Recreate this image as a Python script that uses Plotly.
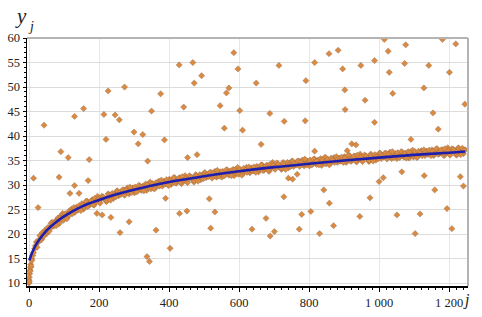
import plotly.graph_objects as go

# ---- data ----
early_j = [0, 0, 1, 2, 3, 4, 5, 8]
early_y = [10.0, 10.6, 11.2, 11.9, 12.6, 13.2, 13.8, 14.9]

band_y = [
    10.3, 13.4, 15.6, 17.0,
    18.4, 18.3, 19.7, 18.9, 20.1,
    20.8, 20.1, 21.3, 21.2, 22.4,
    21.6, 22.7, 22.7, 22.1, 23.7,
    24.2, 23.3, 24.0, 23.5, 24.6,
    25.1, 24.6, 24.4, 25.5, 25.0,
    25.1, 26.2, 25.1, 26.1, 26.7,
    25.8, 26.3, 27.0, 25.9, 27.0,
    27.7, 26.5, 27.2, 27.6, 27.1,
    26.6, 28.2, 27.6, 28.1, 27.3,
    28.2, 28.8, 27.8, 28.3, 28.9,
    29.0, 28.4, 29.4, 28.2, 29.0,
    29.4, 28.4, 29.3, 28.9, 29.9,
    28.9, 29.8, 29.6, 28.9, 30.2,
    30.6, 29.5, 30.1, 29.4, 30.4,
    30.8, 30.2, 29.8, 30.8, 30.3,
    30.2, 31.2, 30.1, 30.9, 31.5,
    30.4, 30.9, 31.5, 30.3, 31.4,
    31.9, 30.7, 31.4, 31.7, 31.2,
    30.6, 32.1, 31.5, 31.9, 31.1,
    31.9, 32.5, 31.5, 31.9, 32.5,
    32.5, 31.9, 32.8, 31.6, 32.3,
    32.7, 31.6, 32.6, 32.1, 33.1,
    32.0, 32.9, 32.6, 31.9, 33.2,
    33.6, 32.4, 32.9, 32.3, 33.2,
    33.6, 32.9, 32.5, 33.5, 32.9,
    32.9, 33.8, 32.7, 33.5, 34.1,
    33.0, 33.5, 34.0, 32.8, 33.9,
    34.6, 33.4, 34.0, 34.3, 33.7,
    33.2, 34.6, 33.9, 34.4, 33.5,
    34.4, 34.9, 33.8, 34.3, 34.8,
    34.9, 34.2, 35.1, 33.9, 34.6,
    34.9, 33.9, 34.8, 34.3, 35.3,
    34.2, 35.1, 34.8, 34.0, 35.3,
    35.7, 34.5, 35.0, 34.4, 35.3,
    35.6, 35.0, 34.6, 35.5, 34.9,
    34.9, 35.8, 34.6, 35.5, 36.0,
    34.9, 35.4, 35.9, 34.7, 35.7,
    36.3, 35.0, 35.6, 36.0, 35.4,
    34.8, 36.3, 35.6, 36.0, 35.1,
    36.0, 36.5, 35.4, 35.9, 36.4,
    36.4, 35.8, 36.7, 35.4, 36.1,
    36.4, 35.4, 36.3, 35.8, 36.7,
    35.7, 36.5, 36.2, 35.5, 36.8,
    37.1, 36.0, 36.5, 35.8, 36.7,
    37.0, 36.4, 36.0, 36.9, 36.3,
    36.3, 37.2, 36.0, 36.8, 37.4,
    36.3, 36.7, 37.2, 36.0, 37.1,
    37.6, 36.3, 36.9, 37.3, 36.7,
    36.1, 37.6, 36.9, 37.3, 36.4,
    37.2,
]
band_j = [1 + 5 * i for i in range(len(band_y))]

band2_y = [
    12.4, 14.6, 16.2, 17.6,
    17.3, 18.8, 18.8, 20.3, 19.6,
    20.4, 21.3, 20.6, 22.2, 21.7,
    22.3, 21.7, 23.3, 23.2, 22.9,
    22.8, 24.1, 23.1, 24.6, 24.4,
    24.1, 25.4, 25.1, 24.9, 25.8,
    24.8, 25.9, 25.5, 26.7, 25.6,
    26.2, 26.8, 26.0, 27.3, 26.6,
    27.1, 26.3, 27.7, 27.5, 27.0,
    26.8, 28.0, 26.9, 28.3, 28.0,
    27.6, 28.8, 28.4, 28.1, 29.0,
    27.9, 28.9, 28.5, 29.6, 28.5,
    29.0, 29.6, 28.6, 29.9, 29.2,
    29.6, 28.8, 30.2, 30.0, 29.4,
    29.2, 30.3, 29.2, 30.5, 30.2,
    29.8, 31.0, 30.5, 30.2, 31.1,
    29.9, 30.9, 30.5, 31.5, 30.4,
    30.8, 31.4, 30.5, 31.7, 31.0,
    31.3, 30.5, 31.9, 31.6, 31.1,
    30.8, 31.9, 30.8, 32.1, 31.8,
    31.3, 32.5, 32.1, 31.7, 32.6,
    31.4, 32.4, 31.9, 33.0, 31.8,
    32.3, 32.8, 31.9, 33.1, 32.4,
    32.7, 31.9, 33.2, 33.0, 32.4,
    32.2, 33.2, 32.0, 33.4, 33.0,
    32.6, 33.7, 33.2, 32.9, 33.7,
    32.6, 33.5, 33.1, 34.1, 33.0,
    33.4, 34.0, 33.0, 34.2, 33.5,
    34.0, 33.2, 34.5, 34.2, 33.6,
    33.4, 34.4, 33.2, 34.6, 34.2,
    33.8, 34.9, 34.4, 34.1, 34.9,
    33.8, 34.7, 34.2, 35.3, 34.1,
    34.5, 35.1, 34.1, 35.3, 34.6,
    34.9, 34.1, 35.4, 35.1, 34.5,
    34.3, 35.3, 34.1, 35.5, 35.1,
    34.6, 35.8, 35.3, 34.9, 35.7,
    34.6, 35.5, 35.0, 36.1, 34.9,
    35.3, 35.9, 34.9, 36.1, 35.3,
    35.7, 34.8, 36.1, 35.9, 35.3,
    35.0, 36.1, 34.9, 36.2, 35.8,
    35.4, 36.5, 36.0, 35.7, 36.5,
    35.3, 36.3, 35.8, 36.8, 35.6,
    36.0, 36.6, 35.6, 36.8, 36.0,
    36.4, 35.5, 36.8, 36.6, 36.0,
    35.7, 36.8, 35.6, 36.9, 36.5,
    36.0, 37.2, 36.7, 36.3, 37.1,
    36.0, 36.9, 36.4, 37.4, 36.3,
    36.7, 37.2, 36.2, 37.4, 36.7,
    37.0, 36.1, 37.4, 37.2, 36.6,
    36.3, 37.4, 36.2, 37.5, 37.1,
]
band2_j = [3 + 5 * i for i in range(len(band2_y))]

out_j = [13, 26, 43, 86, 91, 112, 117, 130, 130, 143, 156, 169, 172, 194, 209, 214,
         220, 226, 234, 246, 258, 260, 273, 286, 300, 312, 325, 337, 339, 344, 350,
         363, 376, 387, 390, 403, 429, 430, 442, 451, 453, 468, 472, 480, 493, 515,
         519, 531, 546, 558, 564, 571, 585, 597, 602, 610, 637, 649, 663, 677, 688,
         689, 701, 714, 728, 729, 741, 753, 766, 772, 779, 789, 791, 805, 816, 816,
         830, 842, 857, 858, 870, 883, 896, 902, 903, 909, 922, 934, 945, 948, 960,
         974, 987, 987, 1000, 1012, 1015, 1026, 1029, 1039, 1051, 1065, 1073, 1076,
         1091, 1103, 1117, 1128, 1129, 1142, 1154, 1159, 1169, 1181, 1194, 1201,
         1208, 1219, 1232, 1241, 1245]
out_y = [31.4, 25.4, 42.2, 31.6, 36.8, 35.6, 28.3, 44.0, 29.9, 28.3, 45.6, 30.9, 35.2,
         24.2, 23.9, 44.4, 39.3, 49.2, 23.4, 44.3, 43.3, 20.3, 50.0, 22.5, 40.8, 38.4,
         40.3, 15.4, 34.9, 14.4, 45.1, 20.8, 48.6, 39.2, 27.3, 17.1, 54.5, 24.2, 45.9,
         24.7, 35.6, 55.0, 50.8, 36.2, 52.3, 27.2, 21.2, 24.5, 46.2, 41.6, 48.8, 49.8,
         57.0, 53.7, 45.2, 41.2, 21.0, 50.8, 38.3, 23.2, 44.6, 19.6, 20.5, 54.4, 27.6,
         43.0, 31.4, 31.2, 32.2, 21.0, 24.0, 43.1, 51.3, 24.6, 55.0, 36.9, 20.1, 29.0,
         56.8, 26.3, 21.7, 57.5, 53.7, 49.4, 45.4, 37.0, 38.4, 38.2, 23.6, 54.4, 47.3,
         27.4, 55.4, 42.8, 30.7, 31.5, 59.7, 57.3, 53.0, 48.7, 23.9, 32.7, 54.8, 58.6,
         39.3, 20.1, 24.1, 49.8, 31.9, 54.4, 44.7, 29.0, 41.4, 59.7, 25.2, 53.0, 21.1,
         58.8, 31.7, 29.8, 46.5]

fit_j = [1, 10, 25, 50, 75, 100, 150, 200, 250, 300, 400, 500, 600, 700, 800, 900,
         1000, 1100, 1200, 1246]
fit_y = [14.65, 16.4, 18.4, 20.7, 22.3, 23.6, 25.6, 26.95, 28.1, 29.05, 30.6, 31.8,
         32.8, 33.65, 34.35, 35.0, 35.6, 36.15, 36.6, 36.85]

x_tick_vals = [0, 200, 400, 600, 800, 1000, 1200]
x_tick_text = ["0", "200", "400", "600", "800", "1 000", "1 200"]
y_tick_vals = [10, 15, 20, 25, 30, 35, 40, 45, 50, 55, 60]
y_tick_text = ["10", "15", "20", "25", "30", "35", "40", "45", "50", "55", "60"]

# ---- styling ----
SERIF = "Liberation Serif"
TXT = "#222222"
marker_style = dict(symbol="diamond", size=4.8, color="#DB8A3F",
                    line=dict(color="rgba(125,100,85,0.7)", width=0.5))

fig = go.Figure()
fig.add_trace(go.Scatter(x=early_j + band_j + band2_j, y=early_y + band_y + band2_y,
                         mode="markers", marker=marker_style,
                         showlegend=False, hoverinfo="skip"))
fig.add_trace(go.Scatter(x=out_j, y=out_y, mode="markers",
                         marker=marker_style, showlegend=False, hoverinfo="skip"))
fig.add_trace(go.Scatter(x=fit_j, y=fit_y, mode="lines",
                         line=dict(color="#1E1EAE", width=2.6, shape="spline", smoothing=1.0),
                         showlegend=False, hoverinfo="skip"))

fig.update_layout(
    template="none",
    width=482, height=317,
    margin=dict(l=27, r=14, t=38, b=31, pad=0),
    paper_bgcolor="white", plot_bgcolor="white",
    font=dict(family=SERIF, size=12.5, color=TXT),
    showlegend=False,
    xaxis=dict(range=[-5.7, 1254], automargin=False, showline=True,
               linecolor="black", linewidth=1.5,
               ticks="outside", ticklen=4, tickcolor="black", tickwidth=1,
               tickmode="array", tickvals=x_tick_vals, ticktext=x_tick_text,
               showgrid=True, gridcolor="#e6e6e6", gridwidth=1, zeroline=False,
               minor=dict(tickmode="linear", tick0=0, dtick=20, ticks="outside",
                          ticklen=2, tickcolor="black", showgrid=False),
               tickfont=dict(family=SERIF, size=12.5, color=TXT)),
    yaxis=dict(range=[9.4, 60], automargin=False, showline=True,
               linecolor="black", linewidth=1.5,
               ticks="outside", ticklen=3, tickcolor="black", tickwidth=1,
               tickmode="array", tickvals=y_tick_vals, ticktext=y_tick_text,
               showgrid=True, gridcolor="#dcdcdc", gridwidth=1, zeroline=False,
               minor=dict(tickmode="linear", tick0=0, dtick=1, ticks="outside",
                          ticklen=2, tickcolor="black", showgrid=False),
               tickfont=dict(family=SERIF, size=12.5, color=TXT)),
    shapes=[
        dict(type="line", xref="paper", yref="paper", x0=0, x1=1, y0=1, y1=1,
             line=dict(color="#b4b4b4", width=2)),
        dict(type="line", xref="paper", yref="paper", x0=1, x1=1, y0=0, y1=1,
             line=dict(color="#b4b4b4", width=2)),
    ],
    annotations=[
        dict(text="<i>y</i>", xref="paper", yref="paper", x=-0.0136, y=1.089,
             xanchor="center", yanchor="middle", showarrow=False,
             font=dict(family=SERIF, size=21, color=TXT)),
        dict(text="<i>j</i>", xref="paper", yref="paper", x=0.008, y=1.045,
             xanchor="center", yanchor="middle", showarrow=False,
             font=dict(family=SERIF, size=14, color=TXT)),
        dict(text="<i>j</i>", xref="paper", yref="paper", x=0.997, y=-0.056,
             xanchor="center", yanchor="middle", showarrow=False,
             font=dict(family=SERIF, size=16, color=TXT)),
    ],
)

fig.write_html(
    "out.html",
    config={"displayModeBar": False, "staticPlot": True},
    post_script="document.body.style.margin='0';document.body.style.padding='0';"
                "document.documentElement.style.overflow='hidden';",
)
